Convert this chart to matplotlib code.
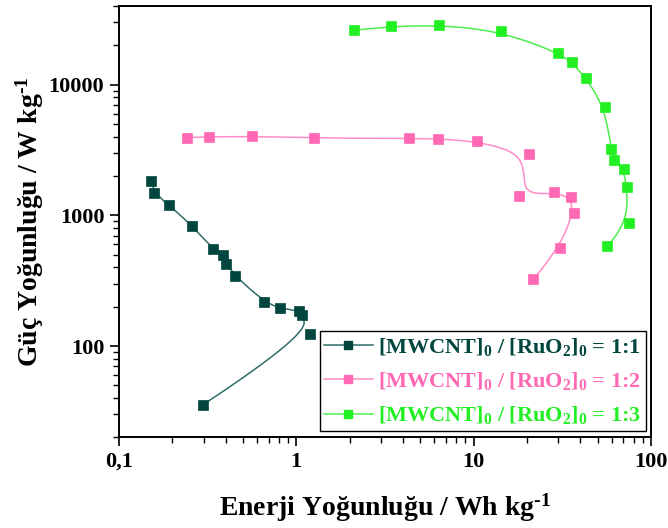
import numpy as np
import matplotlib
matplotlib.use("Agg")
import matplotlib.pyplot as plt
from matplotlib.ticker import FixedLocator, FixedFormatter, LogLocator, NullFormatter

plt.rcParams['font.family'] = 'Liberation Serif'
plt.rcParams['font.weight'] = 'bold'
plt.rcParams['mathtext.default'] = 'regular'

# energy density (Wh/kg) and power density (W/kg) for each ratio
e1 = [0.152, 0.158, 0.192, 0.259, 0.338, 0.385, 0.404, 0.454, 0.662, 0.812, 1.035, 1.076, 1.19, 0.299]
p1 = [1828, 1479, 1200, 832, 556, 497, 427, 342, 217, 194, 187, 172, 123, 35.7]

e2 = [0.241, 0.324, 0.562, 1.26, 4.33, 6.32, 10.5, 20.5, 18.1, 28.4, 35.3, 36.9, 30.6, 21.7]
p2 = [3945, 3990, 4035, 3900, 3880, 3856, 3682, 2960, 1413, 1507, 1374, 1047, 562, 324]

e3 = [2.11, 3.43, 6.40, 14.2, 29.9, 35.8, 43.1, 54.9, 59.7, 62.1, 70.2, 73.0, 74.8, 56.9]
p3 = [26100, 27990, 28840, 25760, 17630, 14790, 11210, 6730, 3213, 2649, 2248, 1655, 878, 582]

labels = ['[MWCNT]$_0$ / [RuO$_2$]$_0$ = 1:1',
          '[MWCNT]$_0$ / [RuO$_2$]$_0$ = 1:2',
          '[MWCNT]$_0$ / [RuO$_2$]$_0$ = 1:3']

xticks = [0.1, 1, 10, 100]
xticklabels = ['0,1', '1', '10', '100']
yticks = [100, 1000, 10000]
yticklabels = ['100', '1000', '10000']


def bspline(xs, ys, n=600):
    # clamped cubic B-spline in log-log space, data points as control points
    P = np.column_stack([np.log10(xs), np.log10(ys)])
    k = 3
    m = len(P)
    knots = np.concatenate([np.zeros(k), np.linspace(0, 1, m - k + 1), np.ones(k)])
    t = np.linspace(0, 1, n)
    N = np.zeros((n, len(knots) - 1))
    for i in range(len(knots) - 1):
        N[:, i] = (t >= knots[i]) & (t < knots[i + 1])
    N[-1, m - 1] = 1.0
    for d in range(1, k + 1):
        Nn = np.zeros((n, len(knots) - 1 - d))
        for i in range(len(knots) - 1 - d):
            a = knots[i + d] - knots[i]
            b = knots[i + d + 1] - knots[i + 1]
            left = (t - knots[i]) / a * N[:, i] if a > 0 else 0
            right = (knots[i + d + 1] - t) / b * N[:, i + 1] if b > 0 else 0
            Nn[:, i] = left + right
        N = Nn
    C = N @ P
    return 10 ** C[:, 0], 10 ** C[:, 1]


fig = plt.figure(figsize=(6.68, 5.28), dpi=100)
ax = fig.add_axes([0.178, 0.1715, 0.7964, 0.8171])

series = [(e1, p1, '#00463F', '#2E6E68'),
          (e2, p2, '#FF69B4', '#FF8CC6'),
          (e3, p3, '#22F022', '#4CEE4C')]

handles = []
for (e, p, mc, lc), lab in zip(series, labels):
    sx, sy = bspline(e, p)
    ax.plot(sx, sy, color=lc, lw=1.1, zorder=2)
    ax.plot(e, p, 's', color=mc, ms=7.2, mec=mc, mew=0.5, zorder=3)
    h, = ax.plot([], [], '-s', color=lc, mfc=mc, mec=mc, ms=7.2, lw=1.1, label=lab)
    handles.append(h)

ax.set_xscale('log')
ax.set_yscale('log')
ax.set_xlim(0.1, 100)
ax.set_ylim(20, 40000)

ax.xaxis.set_major_locator(FixedLocator(xticks))
ax.xaxis.set_major_formatter(FixedFormatter(xticklabels))
ax.yaxis.set_major_locator(FixedLocator(yticks))
ax.yaxis.set_major_formatter(FixedFormatter(yticklabels))
ax.xaxis.set_minor_locator(LogLocator(base=10, subs=np.arange(2, 10)))
ax.yaxis.set_minor_locator(LogLocator(base=10, subs=np.arange(2, 10)))
ax.xaxis.set_minor_formatter(NullFormatter())
ax.yaxis.set_minor_formatter(NullFormatter())

ax.tick_params(which='major', direction='out', length=6.5, width=1.2, labelsize=16, pad=4)
ax.tick_params(which='minor', direction='out', length=4, width=1.0)
for s in ax.spines.values():
    s.set_linewidth(1.4)

ax.set_xlabel('Enerji Yoğunluğu / Wh kg$^{\u20101}$', fontsize=20, fontweight='bold', labelpad=14)
ax.set_ylabel('Güç Yoğunluğu / W kg$^{\u20101}$', fontsize=20, fontweight='bold', labelpad=2)

leg = ax.legend(handles=handles, loc='lower right', bbox_to_anchor=(0.9906, 0.0155),
                borderaxespad=0, fontsize=16, frameon=True, fancybox=False,
                edgecolor='black', framealpha=1, handlelength=2.2, handletextpad=0.25,
                labelspacing=0.55, borderpad=0.2, markerscale=0.85)
leg.get_frame().set_linewidth(1.0)
for txt, (_, _, mc, _) in zip(leg.get_texts(), series):
    txt.set_color(mc)

fig.savefig('out.png', dpi=100)
